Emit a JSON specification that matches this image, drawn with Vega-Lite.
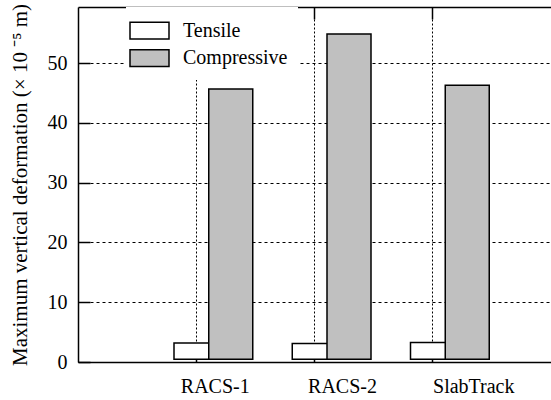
{
  "$schema": "https://vega.github.io/schema/vega-lite/v6.json",
  "width": 473,
  "height": 355,
  "autosize": {"type": "none"},
  "padding": {"left": 78, "top": 7, "right": 0, "bottom": 38},
  "background": "white",
  "data": {
    "values": [
      {"track": "RACS-1", "type": "Tensile", "value": 3.2},
      {"track": "RACS-2", "type": "Tensile", "value": 3.1},
      {"track": "SlabTrack", "type": "Tensile", "value": 3.25},
      {"track": "RACS-1", "type": "Compressive", "value": 45.7},
      {"track": "RACS-2", "type": "Compressive", "value": 54.9},
      {"track": "SlabTrack", "type": "Compressive", "value": 46.3}
    ]
  },
  "encoding": {
    "y": {
      "field": "value",
      "type": "quantitative",
      "scale": {"domain": [0, 59.4], "nice": false, "zero": true},
      "axis": {
        "orient": "left",
        "values": [0, 10, 20, 30, 40, 50],
        "grid": true,
        "gridDash": [3, 3],
        "gridColor": "black",
        "gridWidth": 1,
        "gridOpacity": 1,
        "tickSize": -12,
        "labelPadding": 23,
        "title": "Maximum vertical deformation (× 10 ⁻⁵ m)",
        "titleFontSize": 21,
        "titlePadding": 17
      }
    },
    "y2": {"datum": 0.45},
    "color": {
      "field": "type",
      "type": "nominal",
      "scale": {"domain": ["Tensile", "Compressive"], "range": ["#ffffff", "#c0c0c0"]},
      "legend": {
        "title": null,
        "orient": "none",
        "legendX": 48,
        "legendY": 0,
        "padding": 10,
        "fillColor": "white",
        "symbolType": "M-1.56,-0.67H1.56V0.67H-1.56Z",
        "symbolSize": 625,
        "symbolStrokeColor": "black",
        "symbolStrokeWidth": 1.5,
        "symbolOpacity": 1,
        "labelFont": "Liberation Serif",
        "labelFontSize": 20,
        "labelColor": "black",
        "labelOffset": 20,
        "rowPadding": 2.7
      }
    }
  },
  "layer": [
    {
      "transform": [{"filter": "datum.type === 'Tensile'"}],
      "mark": {"type": "bar", "width": 35.5, "xOffset": -4.5, "stroke": "black", "strokeWidth": 1.5, "opacity": 1},
      "encoding": {
        "x": {
          "field": "track",
          "type": "nominal",
          "scale": {"type": "band", "domain": ["RACS-1", "RACS-2", "SlabTrack"], "paddingInner": 0, "paddingOuter": 0.5},
          "axis": {
            "orient": "bottom",
            "title": null,
            "labelAngle": 0,
            "grid": true,
            "bandPosition": 0.5,
            "gridDash": [2, 2],
            "gridColor": "black",
            "gridWidth": 1,
            "gridOpacity": 1,
            "tickSize": -12,
            "labelPadding": 26,
            "labelOffset": {
              "condition": [
                {"test": "datum.value === 'RACS-1'", "value": 19},
                {"test": "datum.value === 'RACS-2'", "value": 28}
              ],
              "value": 41
            }
          }
        }
      }
    },
    {
      "transform": [{"filter": "datum.type === 'Compressive'"}],
      "mark": {"type": "bar", "width": 44, "xOffset": 34.5, "stroke": "black", "strokeWidth": 1.5, "opacity": 1},
      "encoding": {
        "x": {
          "field": "track",
          "type": "nominal",
          "scale": {"type": "band", "domain": ["RACS-1", "RACS-2", "SlabTrack"], "paddingInner": 0, "paddingOuter": 0.5},
          "axis": {
            "orient": "top",
            "title": null,
            "labels": false,
            "grid": false,
            "bandPosition": 0.5,
            "tickSize": -12
          }
        }
      }
    }
  ],
  "resolve": {"axis": {"x": "independent"}},
  "config": {
    "font": "Liberation Serif",
    "view": {"stroke": null},
    "axis": {
      "labelFont": "Liberation Serif",
      "labelFontSize": 20,
      "labelColor": "black",
      "titleFont": "Liberation Serif",
      "titleFontSize": 20,
      "titleFontWeight": "normal",
      "titleColor": "black",
      "domainColor": "black",
      "domainWidth": 1.5,
      "tickColor": "black",
      "tickWidth": 1.5
    }
  }
}
